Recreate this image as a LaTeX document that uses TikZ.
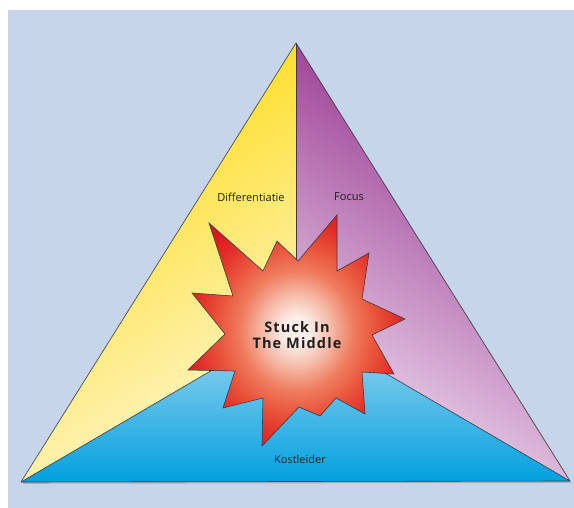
\documentclass[tikz,border=0pt]{standalone}
\usepackage{fontspec}
\setmainfont{Open Sans}
\definecolor{bgblue}{HTML}{C7D5EA}
\definecolor{ysat}{HTML}{FDDA08}
\definecolor{ymid}{HTML}{FDE97A}
\definecolor{ypale}{HTML}{FFF6D2}
\definecolor{psat}{HTML}{8C2284}
\definecolor{pmid}{HTML}{A84EA2}
\definecolor{ppale}{HTML}{F0DDF0}
\definecolor{btop}{HTML}{A8DAF2}
\definecolor{bbot}{HTML}{02A0DF}
\definecolor{edge}{HTML}{3A3A40}
\definecolor{txt}{HTML}{1E1E1E}
\definecolor{bcore}{HTML}{FBEDE8}
\definecolor{bsoft}{HTML}{F5B9A6}
\definecolor{bsalmon}{HTML}{EF7C5E}
\definecolor{borange}{HTML}{E9553B}
\definecolor{bred}{HTML}{E2302A}
\definecolor{bdeep}{HTML}{DB161E}
\pgfdeclareradialshading{burst}{\pgfpoint{0bp}{0bp}}{%
  color(0bp)=(bcore);
  color(3bp)=(bcore);
  color(8bp)=(bsoft);
  color(13bp)=(bsalmon);
  color(18bp)=(borange);
  color(23bp)=(bred);
  color(28bp)=(bdeep);
  color(50bp)=(bdeep)}
\tikzset{
  region/.style={draw=edge, line width=0.6pt, line join=round},
  lbl/.style={font=\fontsize{11}{13}\selectfont, text=txt, inner sep=0pt},
  burstline/.style={draw=edge, line width=0.6pt, line join=miter}
}
\begin{document}
\begin{tikzpicture}[x=1pt,y=-1pt]
\useasboundingbox (0,0) rectangle (574,508);
\fill[white] (0,0) rectangle (574,508);
\fill[bgblue] (8,10) rectangle (574,508);

\coordinate (apex) at (296,43);
\coordinate (bl) at (21,482);
\coordinate (br) at (570,481);
\coordinate (c) at (296,321);

% soft drop shadow under the triangle
\fill[black, opacity=0.18] ([shift={(1.5,1.8)}]apex) -- ([shift={(1.5,1.8)}]bl) -- ([shift={(1.5,1.8)}]br) -- cycle;

% three sectors of the triangle
\shade[top color=ysat, middle color=ymid, bottom color=ypale, shading angle=32] (apex) -- (bl) -- (c) -- cycle;
\shade[top color=psat, middle color=pmid, bottom color=ppale, shading angle=-32] (apex) -- (br) -- (c) -- cycle;
\shade[top color=btop, bottom color=bbot] (bl) -- (br) -- (c) -- cycle;

\draw[region] (apex) -- (c);
\draw[region] (bl) -- (c) -- (br);
\draw[region] (apex) -- (bl) -- (br) -- cycle;

% the burst in the middle
\shade[shading=burst, burstline]
  (209,223) -- (263,271) -- (277,241) -- (298,261) -- (337,215) -- (337,271)
  -- (369,253) -- (362,299) -- (405,319) -- (372,335) -- (394,374) -- (362,372)
  -- (365,414) -- (336,398) -- (320,416) -- (299,407) -- (262,446) -- (263,398)
  -- (223,408) -- (235,371) -- (188,370) -- (225,334) -- (192,293) -- (233,296)
  -- cycle;

\node[font=\bfseries\fontsize{14.5}{16}\selectfont\addfontfeatures{LetterSpace=8},
      text=txt, align=center, inner sep=0pt] (stuck) at (297,335) {Stuck In\\The Middle};

\node[lbl] (diff) at (251,197) {Differentiatie};
\node[lbl] (focus) at (349,197) {Focus};
\node[lbl] (kost) at (300,459) {Kostleider};
\end{tikzpicture}
\end{document}
